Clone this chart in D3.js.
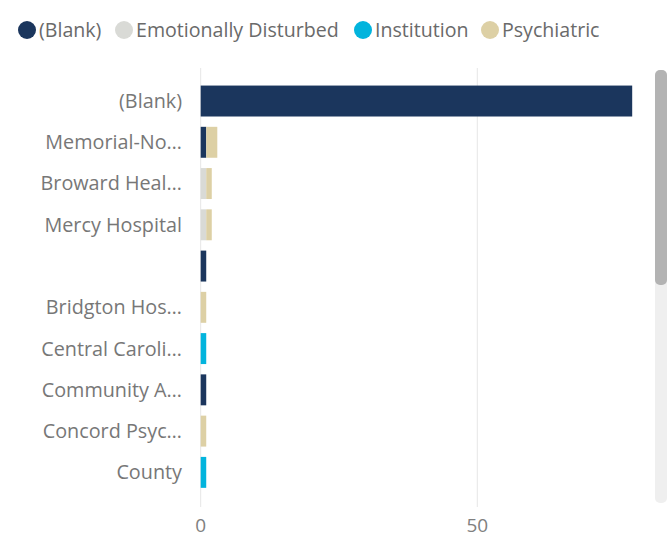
<!DOCTYPE html>
<html><head><meta charset="utf-8">
<script src="https://cdn.jsdelivr.net/npm/d3@7"></script>
<style>body{margin:0;background:#fff;} svg{display:block;font-family:"Open Sans",sans-serif;}</style>
</head><body>
<svg id="c" width="667" height="548"></svg>
<script>
const categories = ["(Blank)", "Memorial-No…", "Broward Heal…", "Mercy Hospital", "", "Bridgton Hos…", "Central Caroli…", "Community A…", "Concord Psyc…", "County"];
const seriesNames = ["(Blank)", "Emotionally Disturbed", "Institution", "Psychiatric"];
const blankValues = [78, 1, 0, 0, 1, 0, 0, 1, 0, 0];
const emotionallyDisturbedValues = [0, 0, 1, 1, 0, 0, 0, 0, 0, 0];
const institutionValues = [0, 0, 0, 0, 0, 0, 1, 0, 0, 1];
const psychiatricValues = [0, 2, 1, 1, 0, 1, 0, 0, 1, 0];
const xTicks = [0, 50];
const colors = ["#1b365d", "#d9dad6", "#02b4dd", "#ddd0a5"];

const rows = categories.map((c, i) => ({
  key: "k" + i, label: c,
  "(Blank)": blankValues[i],
  "Emotionally Disturbed": emotionallyDisturbedValues[i],
  "Institution": institutionValues[i],
  "Psychiatric": psychiatricValues[i]
}));

const svg = d3.select("#c");
const x = d3.scaleLinear().domain([0, 50]).range([200.7, 477.3]);
const y = d3.scaleBand().domain(rows.map(r => r.key)).range([80.4, 493]).paddingInner(0.25).paddingOuter(0.125);
const color = d3.scaleOrdinal().domain(seriesNames).range(colors);

svg.append("g").selectAll("line").data(xTicks).join("line")
  .attr("x1", d => x(d)).attr("x2", d => x(d))
  .attr("y1", 68).attr("y2", 507)
  .attr("stroke", "#e6e6e6").attr("stroke-width", 1);

svg.append("g").selectAll("text").data(xTicks).join("text")
  .attr("x", d => x(d)).attr("y", 532)
  .attr("text-anchor", "middle").attr("fill", "#808080")
  .attr("font-size", 19).text(d => d);

svg.append("g").selectAll("text").data(rows).join("text")
  .attr("x", 182).attr("y", d => y(d.key) + y.bandwidth() / 2)
  .attr("dy", "0.35em").attr("text-anchor", "end")
  .attr("fill", "#777").attr("font-size", 19.8).text(d => d.label);

const stack = d3.stack().keys(seriesNames)(rows);
svg.append("g").selectAll("g").data(stack).join("g")
  .attr("fill", d => color(d.key))
  .selectAll("rect").data(d => d).join("rect")
  .attr("x", d => x(d[0])).attr("width", d => Math.max(0, x(d[1]) - x(d[0])))
  .attr("y", d => y(d.data.key)).attr("height", y.bandwidth());

const legend = svg.append("g");
const legendX = [27, 124, 363, 490];
seriesNames.forEach((s, i) => {
  legend.append("circle").attr("cx", legendX[i]).attr("cy", 30).attr("r", 9).attr("fill", colors[i]);
  legend.append("text").attr("x", legendX[i] + 12).attr("y", 30).attr("dy", "0.35em")
    .attr("fill", "#6a6a6a").attr("font-size", 19.6).text(s);
});

svg.append("rect").attr("x", 655).attr("y", 70).attr("width", 12).attr("height", 433).attr("rx", 5).attr("fill", "#efefef");
svg.append("rect").attr("x", 655).attr("y", 70).attr("width", 12).attr("height", 215).attr("rx", 5).attr("fill", "#b3b3b3");
</script>
</body></html>
